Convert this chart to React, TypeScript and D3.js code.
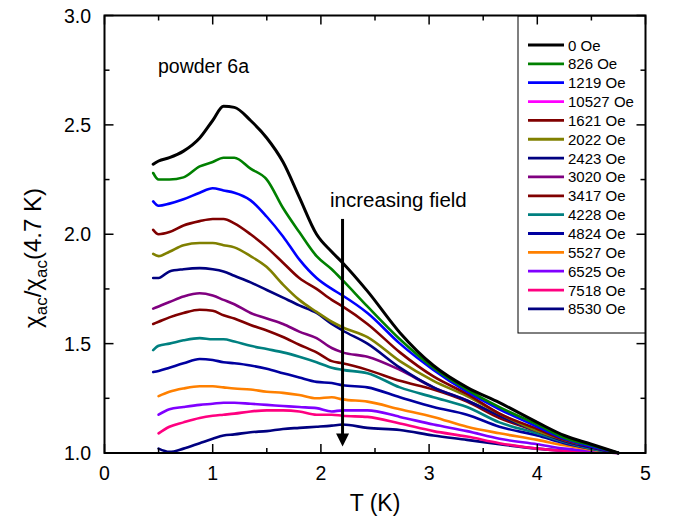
import React from "react";
import * as d3 from "d3";

const temps = [0.45, 0.5, 0.6, 0.73, 0.88, 1.0, 1.1, 1.2, 1.35, 1.5, 1.65, 1.8, 1.96, 2.1, 2.2, 2.43, 2.73, 3.04, 3.35, 3.65, 4.0, 4.25, 4.5, 4.75];

const labels = ["0 Oe", "826 Oe", "1219 Oe", "10527 Oe", "1621 Oe", "2022 Oe", "2423 Oe", "3020 Oe", "3417 Oe", "4228 Oe", "4824 Oe", "5527 Oe", "6525 Oe", "7518 Oe", "8530 Oe"];
const colors = ["#000000", "#008000", "#0000ff", "#ff00ff", "#800000", "#808000", "#000080", "#800080", "#800000", "#008080", "#0000a0", "#ff8000", "#8000ff", "#ff0080", "#000080"];

const s0 = [2.32, 2.335, 2.35, 2.38, 2.44, 2.52, 2.585, 2.58, 2.52, 2.44, 2.33, 2.17, 2.0, 1.92, 1.87, 1.74, 1.55, 1.40, 1.30, 1.23, 1.14, 1.08, 1.04, 1.0];
const s826 = [2.28, 2.25, 2.25, 2.26, 2.31, 2.33, 2.35, 2.35, 2.30, 2.25, 2.12, 2.01, 1.90, 1.84, 1.79, 1.67, 1.52, 1.39, 1.29, 1.21, 1.13, 1.07, 1.035, 1.0];
const s1219 = [2.15, 2.13, 2.14, 2.16, 2.19, 2.21, 2.20, 2.19, 2.155, 2.08, 1.99, 1.885, 1.80, 1.75, 1.72, 1.64, 1.50, 1.38, 1.28, 1.20, 1.12, 1.065, 1.03, 1.0];
const s10527: (number | null)[] = [];
const s1621 = [2.02, 2.0, 2.01, 2.04, 2.06, 2.07, 2.07, 2.05, 2.0, 1.94, 1.87, 1.80, 1.75, 1.70, 1.67, 1.59, 1.46, 1.35, 1.27, 1.18, 1.11, 1.06, 1.03, 1.0];
const s2022 = [1.91, 1.90, 1.92, 1.95, 1.96, 1.96, 1.95, 1.94, 1.90, 1.85, 1.77, 1.70, 1.645, 1.60, 1.575, 1.53, 1.42, 1.33, 1.26, 1.18, 1.10, 1.06, 1.03, 1.0];
const s2423 = [1.80, 1.80, 1.83, 1.84, 1.845, 1.84, 1.83, 1.81, 1.78, 1.745, 1.71, 1.675, 1.64, 1.59, 1.56, 1.50, 1.39, 1.30, 1.24, 1.17, 1.10, 1.055, 1.025, 1.0];
const s3020 = [1.66, 1.67, 1.69, 1.715, 1.73, 1.72, 1.70, 1.68, 1.64, 1.615, 1.59, 1.555, 1.525, 1.48, 1.46, 1.44, 1.38, 1.30, 1.24, 1.17, 1.10, 1.055, 1.025, 1.0];
const s3417 = [1.59, 1.60, 1.62, 1.64, 1.655, 1.65, 1.63, 1.615, 1.585, 1.56, 1.53, 1.495, 1.46, 1.42, 1.41, 1.38, 1.33, 1.29, 1.235, 1.16, 1.10, 1.055, 1.025, 1.0];
const s4228 = [1.47, 1.49, 1.50, 1.515, 1.525, 1.52, 1.52, 1.51, 1.49, 1.475, 1.46, 1.44, 1.415, 1.39, 1.38, 1.365, 1.30, 1.255, 1.21, 1.14, 1.09, 1.05, 1.02, 1.0];
const s4824 = [1.37, 1.375, 1.39, 1.41, 1.43, 1.425, 1.415, 1.41, 1.40, 1.385, 1.365, 1.345, 1.325, 1.32, 1.31, 1.30, 1.255, 1.21, 1.175, 1.12, 1.08, 1.045, 1.02, 1.0];
const s5527 = [null, 1.26, 1.28, 1.295, 1.305, 1.305, 1.30, 1.295, 1.29, 1.28, 1.275, 1.265, 1.25, 1.255, 1.245, 1.235, 1.20, 1.165, 1.12, 1.09, 1.06, 1.035, 1.015, 1.0];
const s6525 = [null, 1.175, 1.20, 1.21, 1.22, 1.225, 1.23, 1.23, 1.225, 1.22, 1.215, 1.21, 1.205, 1.19, 1.195, 1.195, 1.165, 1.13, 1.10, 1.065, 1.04, 1.02, 1.01, 1.0];
const s7518 = [null, 1.09, 1.12, 1.14, 1.16, 1.17, 1.175, 1.18, 1.19, 1.195, 1.195, 1.19, 1.175, 1.175, 1.17, 1.165, 1.135, 1.10, 1.075, 1.045, 1.02, 1.01, 1.005, 1.0];
const s8530 = [null, 1.02, 1.005, 1.02, 1.045, 1.065, 1.08, 1.085, 1.095, 1.10, 1.11, 1.115, 1.12, 1.125, 1.13, 1.115, 1.105, 1.08, 1.06, 1.04, 1.02, 1.01, 1.005, 1.0];

const seriesValues: (number | null)[][] = [s0, s826, s1219, s10527, s1621, s2022, s2423, s3020, s3417, s4228, s4824, s5527, s6525, s7518, s8530];

const xMajor = [0, 1, 2, 3, 4, 5];
const xMinor = [0.5, 1.5, 2.5, 3.5, 4.5];
const yMajor = [1.0, 1.5, 2.0, 2.5, 3.0];
const yMinor = [1.25, 1.75, 2.25, 2.75];

const FONT = "'Liberation Sans', Arial, sans-serif";

export default function App() {
  const L = 104.5, R = 645.5, T = 15.5, B = 453;
  const x = d3.scaleLinear().domain([0, 5]).range([L, R]);
  const y = d3.scaleLinear().domain([1, 3]).range([B, T]);

  const line = d3
    .line<[number, number | null]>()
    .defined((d) => d[1] !== null)
    .curve(d3.curveMonotoneX)
    .x((d) => x(d[0]))
    .y((d) => y(d[1] as number));

  const order = seriesValues.map((_, i) => i).reverse();

  const arrowX = x(2.2);
  const arrowTop = y(2.07);
  const arrowTip = y(1.03);

  const legX = 518, legY = 16, legW = R - 518, legH = 333 - 16;

  return (
    <svg width={673} height={531} style={{ position: "absolute", left: 0, top: 0, background: "#fff" }} fontFamily={FONT}>
      <rect x={0} y={0} width={673} height={531} fill="#fff" />
      {order.map((i) => {
        const vals = seriesValues[i];
        if (!vals.length) return null;
        const pts: [number, number | null][] = temps.map((t, k) => [t, vals[k]]);
        return (
          <path
            key={i}
            d={line(pts) || ""}
            fill="none"
            stroke={colors[i]}
            strokeWidth={i === 0 ? 3 : 2.6}
            strokeLinejoin="round"
            strokeLinecap="round"
          />
        );
      })}
      <line x1={arrowX} x2={arrowX} y1={arrowTop} y2={arrowTip - 10} stroke="#000" strokeWidth={3} />
      <path d={`M${arrowX - 6.5},${arrowTip - 13} L${arrowX + 6.5},${arrowTip - 13} L${arrowX},${arrowTip} Z`} fill="#000" />
      <text x={330} y={207} fontSize={20.5} fill="#000">increasing field</text>
      <text x={158} y={73} fontSize={19.5} fill="#000">powder 6a</text>
      <rect x={L} y={T} width={R - L} height={B - T} fill="none" stroke="#000" strokeWidth={2} />
      {xMajor.map((v) => (
        <g key={"xm" + v}>
          <line x1={x(v)} x2={x(v)} y1={B} y2={B - 9} stroke="#000" strokeWidth={1.5} />
          <line x1={x(v)} x2={x(v)} y1={T} y2={T + 9} stroke="#000" strokeWidth={1.5} />
          <text x={x(v)} y={480} fontSize={19.5} textAnchor="middle">{v}</text>
        </g>
      ))}
      {xMinor.map((v) => (
        <g key={"xn" + v}>
          <line x1={x(v)} x2={x(v)} y1={B} y2={B - 5} stroke="#000" strokeWidth={1.5} />
          <line x1={x(v)} x2={x(v)} y1={T} y2={T + 5} stroke="#000" strokeWidth={1.5} />
        </g>
      ))}
      {yMajor.map((v) => (
        <g key={"ym" + v}>
          <line x1={L} x2={L + 9} y1={y(v)} y2={y(v)} stroke="#000" strokeWidth={1.5} />
          <line x1={R} x2={R - 9} y1={y(v)} y2={y(v)} stroke="#000" strokeWidth={1.5} />
          <text x={91} y={y(v) + 7} fontSize={19.5} textAnchor="end">{v.toFixed(1)}</text>
        </g>
      ))}
      {yMinor.map((v) => (
        <g key={"yn" + v}>
          <line x1={L} x2={L + 5} y1={y(v)} y2={y(v)} stroke="#000" strokeWidth={1.5} />
          <line x1={R} x2={R - 5} y1={y(v)} y2={y(v)} stroke="#000" strokeWidth={1.5} />
        </g>
      ))}
      <text x={375} y={511} fontSize={23} textAnchor="middle">T (K)</text>
      <text transform="translate(41,258) rotate(-90)" fontSize={24} textAnchor="middle">
        <tspan>χ</tspan>
        <tspan fontSize={17} dy={6}>ac</tspan>
        <tspan dy={-6}>/χ</tspan>
        <tspan fontSize={17} dy={6}>ac</tspan>
        <tspan dy={-6}>(4.7 K)</tspan>
      </text>
      <rect x={legX} y={legY} width={legW} height={legH} fill="none" stroke="#000" strokeWidth={1} />
      {labels.map((lab, i) => {
        const yy = 45 + i * 18.85;
        return (
          <g key={lab}>
            <line x1={528} x2={564} y1={yy} y2={yy} stroke={colors[i]} strokeWidth={2.8} />
            <text x={568} y={yy + 5.5} fontSize={15}>{lab}</text>
          </g>
        );
      })}
    </svg>
  );
}
